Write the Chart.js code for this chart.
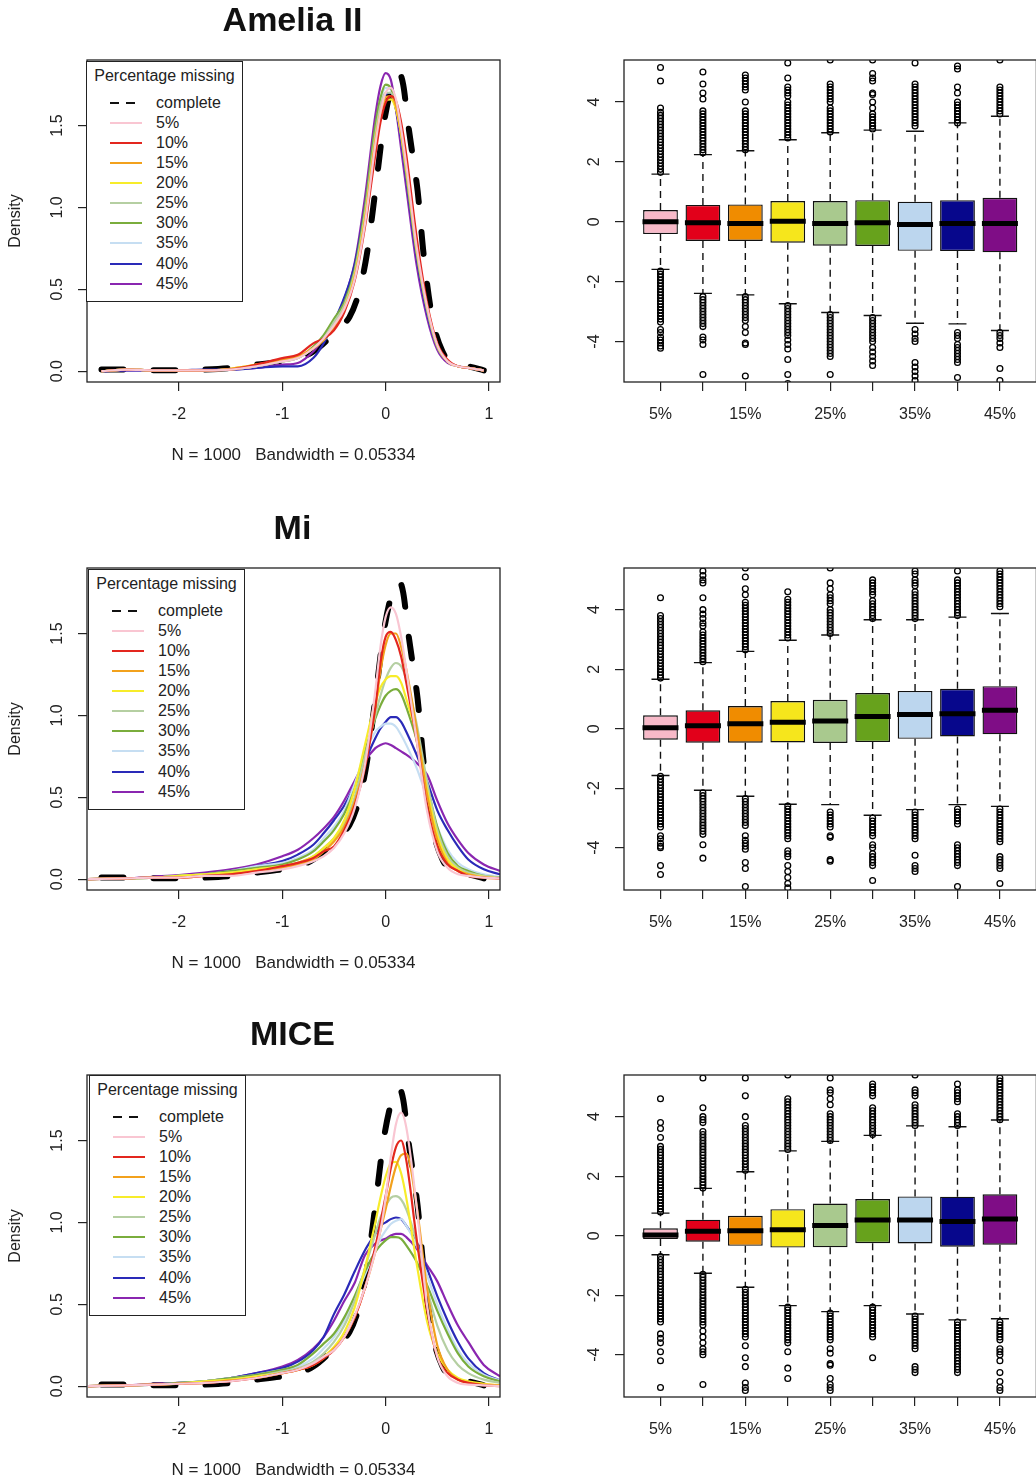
<!DOCTYPE html>
<html>
<head>
<meta charset="utf-8">
<script src="https://cdn.jsdelivr.net/npm/chart.js@4.4.1/dist/chart.umd.min.js"></script>
<style>
  body { margin: 0; background: #fff; overflow: hidden; font-family: "Liberation Sans", Arial, sans-serif; color: #222; }
  #page { position: relative; width: 1036px; height: 1480px; overflow: hidden; background: #fff; }
  canvas { position: absolute; }
  .ttl { position: absolute; width: 400px; text-align: center; font-weight: bold; font-size: 34px; line-height: 34px; color: #111; }
  .lg { position: absolute; box-sizing: border-box; width: 157px; height: 241px; border: 1.3px solid #222; background: #fff; font-size: 16px; }
  .lt { position: absolute; left: 0; right: 0; top: 4px; line-height: 20px; text-align: center; }
  .ln { position: absolute; left: 23px; width: 32px; height: 2px; margin-top: -1px; }
  .ds { position: absolute; width: 9px; height: 2px; margin-top: -1px; background: #111; }
  .lx { position: absolute; left: 69px; line-height: 20px; margin-top: -10px; }
</style>
</head>
<body>
<div id="page"></div>
<script>
// ---- data ----
const pctLabels = ['5%', '10%', '15%', '20%', '25%', '30%', '35%', '40%', '45%'];
const legendNames = ['complete'].concat(pctLabels);

const densXTicks = [-2, -1, 0, 1];
const densYTicks = [0, 0.5, 1, 1.5];
const densYLabels = ['0.0', '0.5', '1.0', '1.5'];
const boxYTicks = [-4, -2, 0, 2, 4];
const boxYLabels = ['-4', '-2', '0', '2', '4'];
const bwLabel = 'N = 1000   Bandwidth = 0.05334';

// complete data (dashed black), same in every panel
const completeX = [-2.75, -2.5, -2.25, -2.0, -1.75, -1.5, -1.25, -1.0, -0.85, -0.7, -0.55, -0.45, -0.35, -0.25, -0.18, -0.1, -0.02, 0.05, 0.1, 0.13, 0.17, 0.22, 0.27, 0.31, 0.37, 0.45, 0.55, 0.65, 0.8, 0.95];
const completeY = [0.01, 0.01, 0.005, 0.005, 0.01, 0.02, 0.04, 0.06, 0.08, 0.12, 0.2, 0.27, 0.33, 0.5, 0.72, 1.1, 1.5, 1.72, 1.8, 1.82, 1.75, 1.5, 1.28, 1.1, 0.7, 0.33, 0.12, 0.05, 0.03, 0.005];

// Amelia II densities
const ameliaX = [-2.75, -2.5, -2.25, -2.0, -1.75, -1.5, -1.25, -1.0, -0.85, -0.7, -0.6, -0.5, -0.4, -0.3, -0.2, -0.1, -0.05, 0, 0.05, 0.1, 0.15, 0.2, 0.3, 0.4, 0.5, 0.6, 0.7, 0.8, 0.95];
const ameliaY = [
  [0, 0.01, 0.005, 0.005, 0.005, 0.01, 0.03, 0.06, 0.08, 0.14, 0.2, 0.28, 0.38, 0.56, 0.9, 1.38, 1.58, 1.7, 1.73, 1.66, 1.48, 1.26, 0.76, 0.4, 0.16, 0.06, 0.03, 0.02, 0.005],
  [0, 0.01, 0.005, 0.005, 0.005, 0.01, 0.04, 0.08, 0.1, 0.17, 0.2, 0.25, 0.36, 0.55, 0.88, 1.32, 1.52, 1.64, 1.68, 1.65, 1.52, 1.32, 0.82, 0.42, 0.17, 0.07, 0.03, 0.02, 0.005],
  [0, 0.01, 0.005, 0.005, 0.005, 0.015, 0.04, 0.07, 0.09, 0.14, 0.19, 0.27, 0.38, 0.57, 0.92, 1.4, 1.58, 1.67, 1.68, 1.62, 1.46, 1.25, 0.76, 0.4, 0.16, 0.06, 0.03, 0.02, 0.005],
  [0, 0.01, 0.005, 0.005, 0.005, 0.015, 0.04, 0.07, 0.09, 0.14, 0.19, 0.27, 0.38, 0.58, 0.93, 1.4, 1.57, 1.65, 1.66, 1.6, 1.45, 1.24, 0.75, 0.4, 0.16, 0.06, 0.03, 0.02, 0.005],
  [0, 0.01, 0.005, 0.005, 0.005, 0.01, 0.03, 0.06, 0.08, 0.14, 0.2, 0.3, 0.4, 0.6, 0.96, 1.44, 1.62, 1.7, 1.7, 1.62, 1.45, 1.23, 0.74, 0.39, 0.16, 0.06, 0.03, 0.02, 0.005],
  [0, 0.01, 0.005, 0.005, 0.005, 0.01, 0.03, 0.06, 0.08, 0.15, 0.22, 0.32, 0.42, 0.62, 1.0, 1.5, 1.67, 1.75, 1.73, 1.62, 1.44, 1.2, 0.72, 0.38, 0.15, 0.06, 0.03, 0.02, 0.005],
  [0, 0.01, 0.005, 0.005, 0.005, 0.01, 0.03, 0.06, 0.08, 0.14, 0.2, 0.3, 0.41, 0.6, 0.97, 1.47, 1.65, 1.73, 1.72, 1.62, 1.44, 1.21, 0.73, 0.38, 0.15, 0.06, 0.03, 0.02, 0.005],
  [0, 0.005, 0.005, 0.005, 0.01, 0.01, 0.02, 0.03, 0.03, 0.08, 0.17, 0.3, 0.45, 0.65, 1.0, 1.45, 1.62, 1.69, 1.7, 1.6, 1.42, 1.18, 0.7, 0.36, 0.15, 0.06, 0.03, 0.02, 0.005],
  [0, 0.005, 0.005, 0.005, 0.005, 0.01, 0.02, 0.04, 0.05, 0.12, 0.2, 0.3, 0.44, 0.66, 1.06, 1.56, 1.74, 1.82, 1.78, 1.6, 1.36, 1.12, 0.65, 0.33, 0.13, 0.05, 0.03, 0.02, 0.005]
];

// Mi and MICE densities share one grid
const miX = [-2.88, -2.5, -2.25, -2.0, -1.75, -1.5, -1.25, -1.0, -0.85, -0.7, -0.6, -0.5, -0.4, -0.3, -0.2, -0.1, -0.05, 0, 0.05, 0.1, 0.15, 0.2, 0.3, 0.4, 0.5, 0.6, 0.7, 0.8, 0.95, 1.107];
const miY = [
  [0, 0.005, 0.01, 0.01, 0.02, 0.02, 0.04, 0.06, 0.08, 0.11, 0.14, 0.19, 0.28, 0.43, 0.7, 1.15, 1.42, 1.6, 1.66, 1.62, 1.48, 1.28, 0.85, 0.42, 0.17, 0.07, 0.03, 0.02, 0.01, 0.005],
  [0, 0.005, 0.01, 0.01, 0.02, 0.03, 0.05, 0.08, 0.1, 0.13, 0.17, 0.2, 0.3, 0.45, 0.68, 1.05, 1.32, 1.48, 1.51, 1.46, 1.36, 1.2, 0.85, 0.45, 0.2, 0.09, 0.05, 0.02, 0.01, 0.005],
  [0, 0.005, 0.01, 0.01, 0.02, 0.03, 0.05, 0.07, 0.09, 0.12, 0.17, 0.23, 0.32, 0.47, 0.7, 1.04, 1.27, 1.43, 1.5, 1.5, 1.42, 1.28, 0.92, 0.52, 0.24, 0.1, 0.05, 0.03, 0.01, 0.005],
  [0, 0.005, 0.01, 0.02, 0.03, 0.04, 0.06, 0.08, 0.1, 0.14, 0.19, 0.25, 0.36, 0.55, 0.82, 1.08, 1.17, 1.22, 1.24, 1.24, 1.2, 1.1, 0.88, 0.55, 0.27, 0.12, 0.06, 0.03, 0.015, 0.005],
  [0, 0.005, 0.01, 0.02, 0.03, 0.04, 0.06, 0.08, 0.1, 0.14, 0.19, 0.25, 0.34, 0.5, 0.75, 1.0, 1.12, 1.22, 1.29, 1.32, 1.3, 1.22, 0.95, 0.6, 0.3, 0.14, 0.07, 0.04, 0.02, 0.01],
  [0, 0.005, 0.01, 0.02, 0.03, 0.05, 0.07, 0.09, 0.12, 0.17, 0.23, 0.3, 0.4, 0.55, 0.78, 0.98, 1.06, 1.12, 1.15, 1.16, 1.13, 1.05, 0.85, 0.58, 0.32, 0.16, 0.08, 0.05, 0.02, 0.01],
  [0, 0.005, 0.01, 0.02, 0.03, 0.05, 0.08, 0.1, 0.13, 0.18, 0.25, 0.32, 0.42, 0.58, 0.77, 0.9, 0.93, 0.95, 0.95, 0.93, 0.88, 0.82, 0.68, 0.5, 0.32, 0.18, 0.1, 0.06, 0.03, 0.015],
  [0, 0.005, 0.01, 0.02, 0.03, 0.05, 0.08, 0.11, 0.15, 0.21, 0.28, 0.36, 0.45, 0.57, 0.72, 0.86, 0.92, 0.96, 0.99, 0.99, 0.96, 0.9, 0.76, 0.6, 0.42, 0.3, 0.2, 0.12, 0.06, 0.03],
  [0, 0.005, 0.015, 0.025, 0.04, 0.06, 0.09, 0.14, 0.18, 0.25, 0.31, 0.38, 0.48, 0.6, 0.72, 0.8, 0.82, 0.83, 0.82, 0.8, 0.78, 0.76, 0.71, 0.64, 0.48, 0.34, 0.24, 0.16, 0.09, 0.05]
];
const miceY = [
  [0, 0.005, 0.01, 0.015, 0.02, 0.03, 0.05, 0.08, 0.1, 0.14, 0.18, 0.22, 0.3, 0.43, 0.6, 0.82, 0.95, 1.15, 1.4, 1.6, 1.67, 1.58, 1.1, 0.5, 0.18, 0.06, 0.02, 0.01, 0.005, 0],
  [0, 0.005, 0.01, 0.015, 0.02, 0.03, 0.05, 0.08, 0.1, 0.13, 0.17, 0.22, 0.3, 0.42, 0.6, 0.85, 1.0, 1.16, 1.33, 1.46, 1.5, 1.38, 0.9, 0.47, 0.18, 0.08, 0.04, 0.02, 0.005, 0],
  [0, 0.005, 0.01, 0.015, 0.02, 0.035, 0.05, 0.08, 0.1, 0.13, 0.17, 0.23, 0.3, 0.42, 0.6, 0.82, 0.95, 1.08, 1.22, 1.34, 1.41, 1.42, 1.1, 0.6, 0.25, 0.1, 0.04, 0.02, 0.01, 0.005],
  [0, 0.005, 0.01, 0.015, 0.03, 0.04, 0.06, 0.08, 0.1, 0.13, 0.18, 0.24, 0.33, 0.48, 0.72, 1.0, 1.15, 1.28, 1.36, 1.37, 1.3, 1.15, 0.75, 0.4, 0.2, 0.1, 0.05, 0.03, 0.015, 0.005],
  [0, 0.005, 0.01, 0.015, 0.03, 0.04, 0.06, 0.09, 0.11, 0.15, 0.2, 0.27, 0.37, 0.52, 0.72, 0.93, 1.03, 1.1, 1.15, 1.16, 1.14, 1.08, 0.88, 0.6, 0.37, 0.22, 0.13, 0.08, 0.04, 0.02],
  [0, 0.005, 0.01, 0.02, 0.03, 0.05, 0.07, 0.1, 0.13, 0.2, 0.26, 0.32, 0.42, 0.55, 0.7, 0.82, 0.86, 0.89, 0.91, 0.91, 0.9, 0.86, 0.76, 0.62, 0.46, 0.32, 0.2, 0.12, 0.06, 0.03],
  [0, 0.005, 0.01, 0.02, 0.03, 0.05, 0.07, 0.1, 0.12, 0.17, 0.23, 0.3, 0.4, 0.52, 0.68, 0.83, 0.9, 0.95, 0.99, 1.01, 1.02, 0.98, 0.86, 0.68, 0.5, 0.35, 0.22, 0.14, 0.07, 0.035],
  [0, 0.005, 0.01, 0.02, 0.03, 0.05, 0.08, 0.11, 0.15, 0.22, 0.3, 0.44, 0.56, 0.7, 0.83, 0.93, 0.98, 1.0, 1.02, 1.03, 1.02, 0.98, 0.88, 0.72, 0.55, 0.4, 0.27, 0.17, 0.08, 0.035],
  [0, 0.005, 0.015, 0.02, 0.03, 0.05, 0.08, 0.12, 0.16, 0.23, 0.3, 0.4, 0.52, 0.63, 0.8, 0.87, 0.89, 0.9, 0.92, 0.93, 0.93, 0.91, 0.84, 0.74, 0.64, 0.5, 0.37, 0.27, 0.13, 0.06]
];

// boxplot statistics
const ameliaQ1 = [-0.41, -0.64, -0.64, -0.70, -0.80, -0.81, -0.97, -0.98, -1.02];
const ameliaMed = [0.00, -0.03, -0.06, 0.02, -0.06, -0.03, -0.09, -0.06, -0.06];
const ameliaQ3 = [0.39, 0.56, 0.58, 0.69, 0.69, 0.72, 0.67, 0.72, 0.80];
const ameliaLo = [-1.59, -2.39, -2.44, -2.74, -3.03, -3.13, -3.39, -3.41, -3.63];
const ameliaHi = [1.59, 2.24, 2.37, 2.74, 2.97, 3.06, 3.02, 3.30, 3.52];

const miQ1 = [-0.37, -0.47, -0.47, -0.46, -0.48, -0.45, -0.34, -0.26, -0.19];
const miMed = [0.03, 0.10, 0.17, 0.22, 0.26, 0.41, 0.48, 0.50, 0.62];
const miQ3 = [0.45, 0.62, 0.76, 0.93, 0.97, 1.20, 1.27, 1.34, 1.43];
const miLo = [-1.57, -2.07, -2.27, -2.54, -2.55, -2.91, -2.72, -2.55, -2.61];
const miHi = [1.66, 2.22, 2.60, 2.97, 3.15, 3.66, 3.66, 3.75, 3.87];

const miceQ1 = [-0.11, -0.20, -0.34, -0.40, -0.39, -0.25, -0.26, -0.37, -0.30];
const miceMed = [0.02, 0.15, 0.17, 0.20, 0.34, 0.53, 0.53, 0.48, 0.56];
const miceQ3 = [0.25, 0.54, 0.67, 0.89, 1.08, 1.23, 1.32, 1.31, 1.39];
const miceLo = [-0.64, -1.26, -1.73, -2.35, -2.55, -2.35, -2.63, -2.83, -2.79];
const miceHi = [0.76, 1.59, 2.15, 2.85, 3.17, 3.37, 3.69, 3.66, 3.89];

// outliers per box
const ameliaOut = [
  [1.65,1.75,1.85,1.95,2.05,2.15,2.25,2.35,2.45,2.55,2.65,2.75,2.85,2.95,3.05,3.15,3.25,3.35,3.45,3.55,3.65,3.8,4.7,5.15,-1.65,-1.75,-1.85,-1.95,-2.05,-2.15,-2.25,-2.35,-2.45,-2.55,-2.65,-2.75,-2.85,-2.95,-3.05,-3.15,-3.25,-3.35,-3.6,-3.7,-3.85,-3.95,-4.05,-4.15,-4.22],
  [2.3,2.4,2.5,2.6,2.7,2.8,2.9,3.0,3.1,3.2,3.3,3.4,3.5,3.6,3.7,4.1,4.3,4.6,5.0,-2.5,-2.6,-2.7,-2.8,-2.9,-3.0,-3.1,-3.2,-3.3,-3.4,-3.5,-3.85,-3.95,-4.1,-5.1],
  [2.4,2.5,2.6,2.7,2.8,2.9,3.0,3.1,3.2,3.3,3.4,3.5,3.6,3.7,4.0,4.4,4.5,4.6,4.7,4.8,4.9,-2.5,-2.6,-2.7,-2.8,-2.9,-3.0,-3.1,-3.2,-3.3,-3.5,-3.7,-4.05,-4.1,-5.15],
  [2.8,2.9,3.0,3.1,3.2,3.3,3.4,3.5,3.6,3.7,3.8,3.9,4.0,4.2,4.3,4.4,4.5,4.8,5.3,-2.8,-2.9,-3.0,-3.1,-3.2,-3.3,-3.4,-3.5,-3.6,-3.7,-3.8,-3.95,-4.1,-4.25,-4.6,-5.1,-5.4],
  [3.0,3.1,3.2,3.3,3.4,3.5,3.6,3.7,3.8,4.0,4.1,4.2,4.3,4.4,4.5,4.6,5.4,-3.1,-3.2,-3.3,-3.4,-3.5,-3.6,-3.7,-3.8,-3.9,-4.0,-4.1,-4.2,-4.3,-4.4,-4.5,-5.1],
  [3.1,3.2,3.3,3.4,3.5,3.6,3.8,4.0,4.25,4.3,4.7,4.8,4.95,5.4,-3.2,-3.3,-3.4,-3.5,-3.6,-3.7,-3.8,-3.9,-4.0,-4.2,-4.35,-4.5,-4.65,-4.8],
  [3.2,3.3,3.4,3.5,3.6,3.7,3.8,3.9,4.0,4.1,4.2,4.3,4.4,4.5,4.6,5.3,-3.6,-3.75,-3.9,-4.0,-4.7,-4.85,-5.0,-5.15,-5.3],
  [3.3,3.4,3.5,3.6,3.7,3.8,3.9,4.0,4.3,4.5,5.1,5.2,-3.7,-3.8,-3.9,-4.1,-4.2,-4.3,-4.4,-4.5,-4.6,-4.7,-5.2],
  [3.6,3.7,3.8,3.9,4.0,4.1,4.2,4.3,4.4,4.5,5.4,-3.7,-3.8,-3.9,-4.05,-4.2,-4.9,-5.3]
];
const miOut = [
  [1.7,1.8,1.9,2.0,2.1,2.2,2.3,2.4,2.5,2.6,2.7,2.8,2.9,3.0,3.1,3.2,3.3,3.4,3.5,3.6,3.7,3.8,4.4,-1.6,-1.7,-1.8,-1.9,-2.0,-2.1,-2.2,-2.3,-2.4,-2.5,-2.6,-2.7,-2.8,-2.9,-3.0,-3.1,-3.2,-3.3,-3.6,-3.7,-3.85,-3.95,-4.0,-4.6,-4.9],
  [2.25,2.35,2.45,2.55,2.65,2.75,2.85,2.95,3.05,3.15,3.25,3.45,3.55,3.7,3.85,4.0,4.4,4.9,5.0,5.15,5.3,-2.15,-2.25,-2.35,-2.45,-2.55,-2.65,-2.75,-2.85,-2.95,-3.05,-3.15,-3.25,-3.35,-3.45,-3.55,-3.9,-4.35],
  [2.65,2.75,2.85,2.95,3.05,3.15,3.25,3.35,3.45,3.55,3.65,3.75,3.85,3.95,4.05,4.15,4.25,4.5,4.7,5.1,5.4,-2.35,-2.45,-2.55,-2.65,-2.75,-2.85,-2.95,-3.05,-3.15,-3.25,-3.6,-3.75,-3.85,-3.95,-4.05,-4.5,-4.7,-5.3],
  [3.05,3.15,3.25,3.35,3.45,3.55,3.65,3.75,3.85,3.95,4.05,4.15,4.25,4.35,4.6,-2.6,-2.7,-2.8,-2.9,-3.0,-3.1,-3.2,-3.3,-3.4,-3.5,-3.6,-3.7,-4.1,-4.2,-4.3,-4.6,-4.8,-5.0,-5.2,-5.35],
  [3.2,3.3,3.4,3.5,3.6,3.7,3.8,3.9,4.0,4.2,4.3,4.4,4.5,4.7,4.9,5.4,-2.8,-2.9,-3.0,-3.1,-3.2,-3.3,-3.6,-3.65,-4.4,-4.45],
  [3.7,3.8,3.9,4.0,4.1,4.2,4.3,4.5,4.6,4.7,4.8,4.9,5.0,-3.0,-3.1,-3.2,-3.3,-3.4,-3.5,-3.6,-3.9,-4.0,-4.2,-4.3,-4.4,-4.5,-4.6,-5.1],
  [3.7,3.8,3.9,4.0,4.1,4.2,4.3,4.4,4.5,4.6,4.8,4.9,5.0,5.2,5.3,-2.8,-2.9,-3.0,-3.1,-3.2,-3.3,-3.4,-3.5,-3.6,-3.7,-4.25,-4.6,-4.7,-4.8],
  [3.8,3.9,4.0,4.1,4.2,4.3,4.4,4.5,4.6,4.7,4.8,4.9,5.0,5.3,-2.7,-2.8,-2.9,-3.0,-3.1,-3.2,-3.9,-4.0,-4.1,-4.2,-4.3,-4.4,-4.5,-4.6,-5.3],
  [4.1,4.2,4.3,4.4,4.5,4.6,4.7,4.8,4.9,5.0,5.1,5.2,5.3,-2.7,-2.8,-2.9,-3.0,-3.1,-3.2,-3.3,-3.4,-3.5,-3.6,-3.7,-3.8,-4.3,-4.4,-4.5,-4.6,-4.7,-5.2]
];
const miceOut = [
  [0.8,0.9,1.0,1.1,1.2,1.3,1.4,1.5,1.6,1.7,1.8,1.9,2.0,2.1,2.2,2.3,2.4,2.5,2.6,2.7,2.8,2.9,3.0,3.3,3.6,3.8,4.6,-0.7,-0.8,-0.9,-1.0,-1.1,-1.2,-1.3,-1.4,-1.5,-1.6,-1.7,-1.8,-1.9,-2.0,-2.1,-2.2,-2.3,-2.4,-2.5,-2.6,-2.7,-2.8,-2.9,-3.3,-3.45,-3.6,-3.9,-4.2,-5.1],
  [1.6,1.7,1.8,1.9,2.0,2.1,2.2,2.3,2.4,2.5,2.6,2.7,2.8,2.9,3.0,3.1,3.2,3.3,3.4,3.5,3.8,3.9,4.0,4.3,5.3,-1.3,-1.4,-1.5,-1.6,-1.7,-1.8,-1.9,-2.0,-2.1,-2.2,-2.3,-2.4,-2.5,-2.6,-2.7,-2.8,-2.9,-3.0,-3.2,-3.4,-3.6,-3.8,-3.9,-4.0,-5.0],
  [2.2,2.3,2.4,2.5,2.6,2.7,2.8,2.9,3.0,3.1,3.2,3.3,3.4,3.5,3.6,3.7,4.0,4.7,5.3,-1.8,-1.9,-2.0,-2.1,-2.2,-2.3,-2.4,-2.5,-2.6,-2.7,-2.8,-2.9,-3.0,-3.1,-3.2,-3.3,-3.4,-3.7,-4.1,-4.4,-4.95,-5.1,-5.2],
  [2.9,3.0,3.1,3.2,3.3,3.4,3.5,3.6,3.7,3.8,3.9,4.0,4.1,4.2,4.3,4.4,4.5,4.6,5.4,-2.4,-2.5,-2.6,-2.7,-2.8,-2.9,-3.0,-3.1,-3.2,-3.3,-3.4,-3.5,-3.6,-3.9,-4.45,-4.8],
  [3.2,3.3,3.4,3.5,3.6,3.7,3.8,3.9,4.0,4.1,4.4,4.6,4.8,4.9,5.3,-2.6,-2.7,-2.8,-2.9,-3.0,-3.1,-3.2,-3.3,-3.4,-3.5,-3.8,-3.95,-4.3,-4.35,-4.8,-5.0,-5.1,-5.2],
  [3.4,3.5,3.6,3.7,3.8,3.9,4.0,4.1,4.2,4.3,4.7,4.8,4.9,5.0,5.1,-2.4,-2.5,-2.6,-2.7,-2.8,-2.9,-3.0,-3.1,-3.2,-3.3,-3.4,-4.1],
  [3.7,3.8,3.9,4.0,4.1,4.2,4.3,4.4,4.7,4.8,4.9,5.4,-2.7,-2.8,-2.9,-3.0,-3.1,-3.2,-3.3,-3.4,-3.5,-3.6,-3.7,-3.8,-4.4,-4.5,-4.6],
  [3.7,3.8,3.9,4.0,4.1,4.5,4.6,4.7,4.8,4.9,5.1,-2.9,-3.0,-3.1,-3.2,-3.3,-3.4,-3.5,-3.6,-3.7,-3.8,-3.9,-4.0,-4.1,-4.2,-4.3,-4.4,-4.5,-4.6],
  [3.9,4.0,4.1,4.2,4.3,4.4,4.5,4.6,4.7,4.8,4.9,5.0,5.1,5.2,5.3,-2.9,-3.0,-3.1,-3.2,-3.3,-3.4,-3.5,-3.8,-3.9,-4.0,-4.2,-4.6,-4.9,-5.1,-5.2]
];

// ---- styling ----
const boxFill = ['#f7b9c8', '#e2001a', '#f08c00', '#f6e61c', '#a9c98e', '#67a21c', '#bcd6ee', '#07078c', '#7f0d86'];
const lineColors = ['#f9c6d2', '#e3261e', '#f2a11c', '#f7ec2a', '#b5cfa2', '#7aad3c', '#c6def2', '#2a2ab8', '#8a26b0'];
const FONT = '"Liberation Sans", Arial, Helvetica, sans-serif';
Chart.defaults.font.family = FONT;
Chart.defaults.color = '#222';

const rows = [
  { title: 'Amelia II', titleMid: 19, top: 60, bottom: 382, legendLeft: 86, legendTop: 61,
    xs: ameliaX, ys: ameliaY, q1: ameliaQ1, med: ameliaMed, q3: ameliaQ3, lo: ameliaLo, hi: ameliaHi, out: ameliaOut, boxMin: -5.35, boxMax: 5.40 },
  { title: 'Mi', titleMid: 527, top: 568, bottom: 890, legendLeft: 88, legendTop: 569,
    xs: miX, ys: miY, q1: miQ1, med: miMed, q3: miQ3, lo: miLo, hi: miHi, out: miOut, boxMin: -5.42, boxMax: 5.40 },
  { title: 'MICE', titleMid: 1033, top: 1075, bottom: 1397, legendLeft: 89, legendTop: 1075,
    xs: miX, ys: miceY, q1: miceQ1, med: miceMed, q3: miceQ3, lo: miceLo, hi: miceHi, out: miceOut, boxMin: -5.42, boxMax: 5.40 }
];

const page = document.getElementById('page');

// R-like frame plus rotated y labels
const rAxis = {
  id: 'rAxis',
  afterDraw(chart, args, opts) {
    const { ctx, chartArea: a, scales: { y } } = chart;
    ctx.save();
    ctx.strokeStyle = '#222';
    ctx.lineWidth = 1.3;
    ctx.strokeRect(a.left, a.top, a.right - a.left, a.bottom - a.top);
    ctx.fillStyle = '#222';
    ctx.font = '16px ' + FONT;
    ctx.textAlign = 'center';
    ctx.textBaseline = 'middle';
    opts.ticks.forEach((v, i) => {
      ctx.save();
      ctx.translate(a.left - 29, y.getPixelForValue(v));
      ctx.rotate(-Math.PI / 2);
      ctx.fillText(opts.labels[i], 0, 0);
      ctx.restore();
    });
    if (opts.title) {
      ctx.translate(a.left - 71, (a.top + a.bottom) / 2);
      ctx.rotate(-Math.PI / 2);
      ctx.fillText(opts.title, 0, 0);
    }
    ctx.restore();
  }
};

const gridOpts = { drawOnChartArea: false, drawTicks: true, tickLength: 9, color: '#222', lineWidth: 1.2 };

function makeCanvas(left, top, w, h) {
  const cv = document.createElement('canvas');
  cv.width = w; cv.height = h;
  cv.style.left = left + 'px';
  cv.style.top = top + 'px';
  page.appendChild(cv);
  return cv;
}

// x axis: fixed height, no extra side padding for the labels
function fitX(h) {
  return s => { s.height = 470 - 60 - h; s.paddingLeft = 0; s.paddingRight = 0; };
}

function densityChart(row) {
  const h = row.bottom - row.top;
  const cv = makeCanvas(0, row.top - 60, 520, 470);
  const datasets = row.ys.map((ys, i) => ({
    data: row.xs.map((x, j) => ({ x, y: ys[j] })),
    borderColor: lineColors[i], borderWidth: 2.2, pointRadius: 0,
    cubicInterpolationMode: 'monotone', fill: false
  }));
  datasets.push({
    data: completeX.map((x, j) => ({ x, y: completeY[j] })),
    borderColor: '#000', borderWidth: 6, borderDash: [22, 30], borderCapStyle: 'round',
    pointRadius: 0, cubicInterpolationMode: 'monotone', fill: false
  });
  new Chart(cv, {
    type: 'line',
    data: { datasets },
    options: {
      responsive: false, animation: false, events: [],
      layout: { autoPadding: false, padding: { top: 60, right: 20, left: 0, bottom: 0 } },
      plugins: { legend: { display: false }, tooltip: { enabled: false },
        rAxis: { ticks: densYTicks, labels: densYLabels, title: 'Density' } },
      scales: {
        x: {
          type: 'linear', min: -2.89, max: 1.107,
          afterBuildTicks: s => { s.ticks = densXTicks.map(v => ({ value: v })); },
          afterFit: fitX(h),
          border: { display: false }, grid: gridOpts,
          ticks: { font: { size: 16 }, padding: 14, maxRotation: 0, autoSkip: false,
            callback: v => (v < 0 ? '-' + Math.abs(v) : String(v)) },
          title: { display: true, text: bwLabel, font: { size: 17 }, padding: { top: 0, bottom: 4 } }
        },
        y: {
          type: 'linear', min: -0.066, max: 1.9,
          afterBuildTicks: s => { s.ticks = densYTicks.map(v => ({ value: v })); },
          afterFit: s => { s.width = 87; },
          border: { display: false }, grid: gridOpts, ticks: { display: false }
        }
      }
    },
    plugins: [rAxis]
  });
}

function boxChart(row) {
  const h = row.bottom - row.top;
  const cv = makeCanvas(540, row.top - 60, 500, 470);
  const boxes = row.q1.map((q, i) => ({ x: i + 1, y: [q, row.q3[i]] }));
  const meds = row.med.map((m, i) => ({ x: i + 1, y: m }));
  const staples = row.hi.map((v, i) => ({ x: i + 1, y: v })).concat(row.lo.map((v, i) => ({ x: i + 1, y: v })));
  const whisk = [];
  row.q1.forEach((q, i) => {
    whisk.push({ x: i + 1, y: row.q3[i] }, { x: i + 1, y: row.hi[i] }, { x: i + 1, y: null },
               { x: i + 1, y: q }, { x: i + 1, y: row.lo[i] }, { x: i + 1, y: null });
  });
  const outs = row.out.flatMap((vals, i) => vals.map(v => ({ x: i + 1, y: v })));

  new Chart(cv, {
    type: 'bar',
    data: {
      datasets: [
        { type: 'line', data: whisk, borderColor: '#111', borderWidth: 1.4, borderDash: [7, 5],
          pointRadius: 0, spanGaps: false, order: 4 },
        { type: 'bar', data: boxes, backgroundColor: boxFill, borderColor: '#111', borderWidth: 1.4,
          borderSkipped: false, barPercentage: 0.82, categoryPercentage: 1, order: 3 },
        { type: 'scatter', data: meds, pointStyle: 'line', pointRadius: 18, pointBorderWidth: 5,
          pointBorderColor: '#000', order: 2 },
        { type: 'scatter', data: staples, pointStyle: 'line', pointRadius: 9, pointBorderWidth: 1.4,
          pointBorderColor: '#111', order: 2 },
        { type: 'scatter', data: outs, pointStyle: 'circle', pointRadius: 2.9, pointBorderWidth: 1.3,
          pointBorderColor: '#000', pointBackgroundColor: 'rgba(255,255,255,0)', order: 1 }
      ]
    },
    options: {
      responsive: false, animation: false, events: [],
      layout: { autoPadding: false, padding: { top: 60, right: 3.6, left: 0, bottom: 0 } },
      plugins: { legend: { display: false }, tooltip: { enabled: false },
        rAxis: { ticks: boxYTicks, labels: boxYLabels } },
      scales: {
        x: {
          type: 'linear', min: 0.14, max: 9.86, offset: false,
          afterBuildTicks: s => { s.ticks = pctLabels.map((_, i) => ({ value: i + 1 })); },
          afterFit: fitX(h),
          border: { display: false }, grid: Object.assign({ offset: false }, gridOpts),
          ticks: { font: { size: 16 }, padding: 14, maxRotation: 0, autoSkip: false,
            callback: (v, i) => (i % 2 === 0 ? pctLabels[i] : '') }
        },
        y: {
          type: 'linear', min: row.boxMin, max: row.boxMax,
          afterBuildTicks: s => { s.ticks = boxYTicks.map(v => ({ value: v })); },
          afterFit: s => { s.width = 84; },
          border: { display: false }, grid: gridOpts, ticks: { display: false }
        }
      }
    },
    plugins: [rAxis]
  });
}

function addLegend(row) {
  const box = document.createElement('div');
  box.className = 'lg';
  box.style.left = row.legendLeft + 'px';
  box.style.top = row.legendTop + 'px';
  let html = '<div class="lt">Percentage missing</div>';
  legendNames.forEach((name, i) => {
    const y = 41 + i * 20.07;
    if (i === 0) {
      html += `<span class="ds" style="left:23px;top:${y}px"></span><span class="ds" style="left:39px;top:${y}px"></span>`;
    } else {
      html += `<span class="ln" style="top:${y}px;background:${lineColors[i - 1]}"></span>`;
    }
    html += `<span class="lx" style="top:${y}px">${name}</span>`;
  });
  box.innerHTML = html;
  page.appendChild(box);
}

function addTitle(row) {
  const t = document.createElement('div');
  t.className = 'ttl';
  t.textContent = row.title;
  t.style.left = (292.5 - 200) + 'px';
  t.style.top = (row.titleMid - 16.6) + 'px';
  page.appendChild(t);
}

rows.forEach(row => {
  densityChart(row);
  boxChart(row);
  addLegend(row);
  addTitle(row);
});
</script>
</body>
</html>
